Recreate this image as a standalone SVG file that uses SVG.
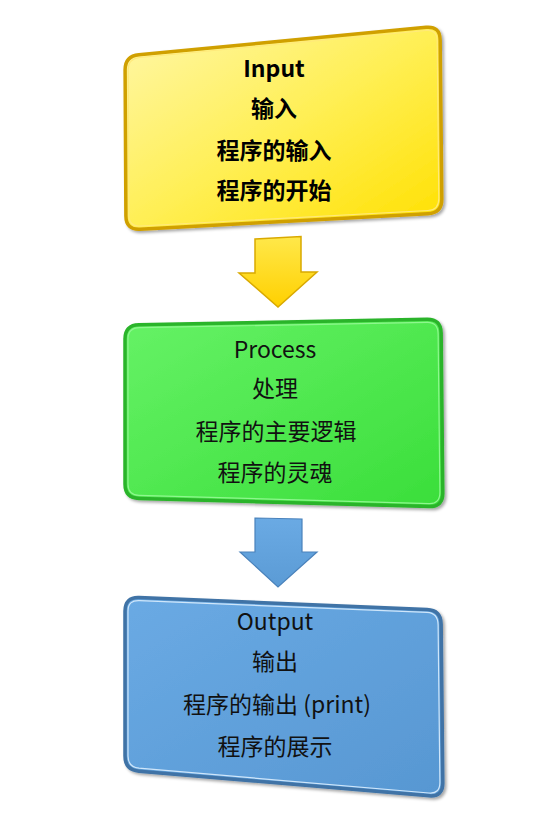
<svg xmlns="http://www.w3.org/2000/svg" width="548" height="826" viewBox="0 0 548 826">
<defs>
<linearGradient id="gy" x1="0" y1="0" x2="1" y2="1"><stop offset="0" stop-color="#fff7a8"/><stop offset="0.5" stop-color="#ffef55"/><stop offset="1" stop-color="#ffe000"/></linearGradient>
<linearGradient id="gg" x1="0" y1="0" x2="1" y2="1"><stop offset="0" stop-color="#66f266"/><stop offset="1" stop-color="#3ade3a"/></linearGradient>
<linearGradient id="gb" x1="0" y1="0" x2="1" y2="1"><stop offset="0" stop-color="#6aaae4"/><stop offset="1" stop-color="#5797d2"/></linearGradient>
<linearGradient id="ay" x1="0" y1="0" x2="0" y2="1"><stop offset="0" stop-color="#ffe84a"/><stop offset="1" stop-color="#ffd000"/></linearGradient>
<linearGradient id="ab" x1="0" y1="0" x2="0" y2="1"><stop offset="0" stop-color="#6aaae4"/><stop offset="1" stop-color="#5b9bd5"/></linearGradient>
<filter id="sh" x="-10%" y="-10%" width="120%" height="125%"><feDropShadow dx="2" dy="2" stdDeviation="1.5" flood-color="#000" flood-opacity="0.35"/></filter>
</defs>
<style>
.t{font-family:"Noto Sans CJK SC","Noto Sans",sans-serif;font-size:23px;fill:#111;text-anchor:middle}
.b{font-weight:bold;fill:#000}
.hl{fill:none;stroke-width:1.2}
</style>
<g id="input">
<path filter="url(#sh)" d="M 138.9,54.7 L 426.1,27.3 Q 440,26 440.15,40 L 441.85,199 Q 442,213 428,213.75 L 140,229.25 Q 126,230 125.9,216 L 125.1,70 Q 125,56 138.9,54.7 Z" fill="url(#gy)" stroke="#d0a000" stroke-width="3.5"/>
<path class="hl" stroke="#ffe97a" d="M 139.5,57.5 L 426,30.5 Q 437,29.5 437.2,41 L 438.8,198 Q 439,210 428,210.5 L 140,226 Q 129,226.5 128.9,215 L 128.2,70 Q 128,59 139.5,57.5 Z"/>
<text class="t b" x="274" y="77">Input</text>
<text class="t b" x="274" y="117">输入</text>
<text class="t b" x="274" y="159">程序的输入</text>
<text class="t b" x="274" y="199">程序的开始</text>
</g>
<g id="process">
<path filter="url(#sh)" d="M 139,324.73 L 427,319.27 Q 441,319 441.15,333 L 442.85,493 Q 443,507 429,506.6 L 139,498.4 Q 125,498 125,484 L 125,339 Q 125,325 139,324.73 Z" fill="url(#gg)" stroke="#2bb42b" stroke-width="3.5"/>
<path class="hl" stroke="#8ef78e" d="M 139.5,327.7 L 427,322.3 Q 438,322 438.1,334 L 439.9,492 Q 440,504 429,503.6 L 139,495.4 Q 128,495 128,484 L 128,339 Q 128,328 139.5,327.7 Z"/>
<text class="t" x="275" y="358">Process</text>
<text class="t" x="275" y="397">处理</text>
<text class="t" x="276" y="440">程序的主要逻辑</text>
<text class="t" x="275" y="481">程序的灵魂</text>
</g>
<g id="output">
<path filter="url(#sh)" d="M 139,597.58 L 427,609.42 Q 441,610 441.15,624 L 442.85,783 Q 443,797 429.05,795.82 L 138.95,771.18 Q 125,770 125,756 L 125,611 Q 125,597 139,597.58 Z" fill="url(#gb)" stroke="#3f73a6" stroke-width="3.5"/>
<path class="hl" stroke="#cfe6fa" d="M 139.5,600.6 L 427,612.4 Q 438,613 438.1,625 L 439.9,782 Q 440,794 429,793 L 139,768.2 Q 128,767 128,756 L 128,611 Q 128,600 139.5,600.6 Z"/>
<text class="t" x="275" y="630">Output</text>
<text class="t" x="275" y="670">输出</text>
<text class="t" x="277" y="713">程序的输出 (print)</text>
<text class="t" x="275" y="755">程序的展示</text>
</g>
<g id="connectors">
<path d="M 255,239 L 301,236.5 L 301,272 L 317,272 L 278,307 L 239,273 L 255,273 Z" fill="url(#ay)" stroke="#d9a900" stroke-width="1.5" stroke-linejoin="miter"/>
<path d="M 255,518 L 302,519 L 302,552 L 317,552 L 278,587 L 240,552 L 255,552 Z" fill="url(#ab)" stroke="#4a82bb" stroke-width="1.2" stroke-linejoin="miter"/>
</g>
</svg>
